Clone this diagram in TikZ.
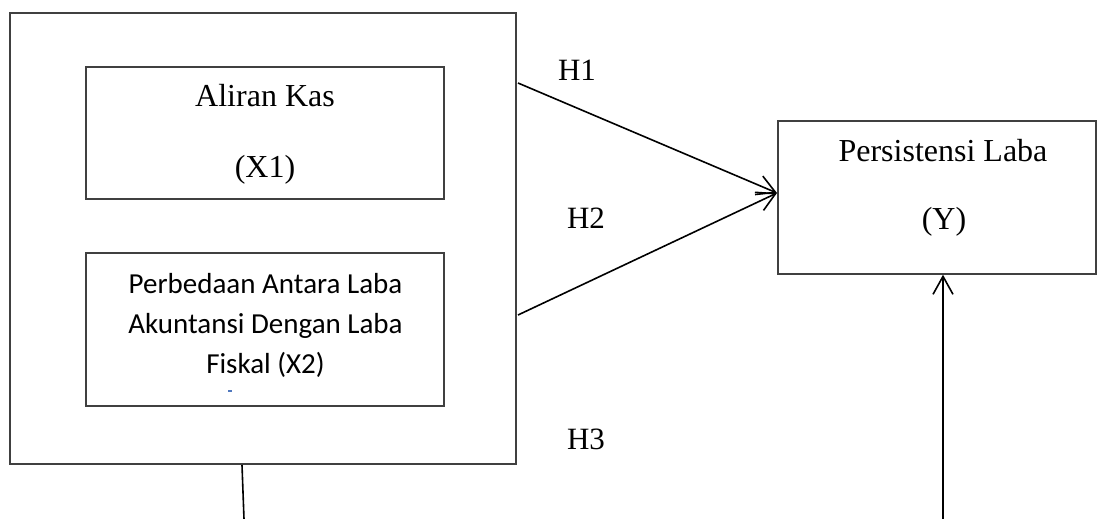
\documentclass[tikz,border=0pt]{standalone}
\usepackage{fontspec}
\setmainfont{Liberation Serif}
\newfontfamily\calibrifont{Carlito}
\usetikzlibrary{arrows.meta}

\definecolor{frame}{RGB}{64,64,64}
\definecolor{caret}{RGB}{80,120,190}

\tikzset{
  framebox/.style={draw=frame, line width=1.4pt, rectangle, inner sep=0pt},
  serif/.style={font=\fontsize{32}{38}\selectfont, anchor=base, inner sep=0pt},
  sans/.style={font=\calibrifont\fontsize{29}{40}\selectfont, anchor=base, inner sep=0pt},
  hlabel/.style={font=\fontsize{31}{36}\selectfont, anchor=base, inner sep=0pt},
  link/.style={line width=1.6pt, black},
  arrowlink/.style={link, -{Straight Barb[length=18pt,width=20pt,line width=1.6pt]}}
}

\begin{document}
\begin{tikzpicture}[x=1pt, y=-1pt]
  \useasboundingbox (0,0) rectangle (1100,519);

  % independent variables: outer frame and two inner boxes
  \node[framebox, minimum width=506pt, minimum height=451pt] (outer) at (263,238.5) {};
  \node[framebox, minimum width=358pt, minimum height=132pt] (xone) at (265,133) {};
  \node[framebox, minimum width=358pt, minimum height=153pt] (xtwo) at (265,329.5) {};

  \node[serif] (xonea) at (265,106) {Aliran Kas};
  \node[serif] (xoneb) at (265,177) {(X1)};

  \node[sans] (xtwoa) at (265.5,293) {Perbedaan Antara Laba};
  \node[sans] (xtwob) at (265.5,333) {Akuntansi Dengan Laba};
  \node[sans] (xtwoc) at (265.5,373) {Fiskal (X2)};
  \fill[caret] (228,390) rectangle (232,392);

  % dependent variable
  \node[framebox, minimum width=318pt, minimum height=153pt] (ybox) at (937,197.5) {};
  \node[serif] (ya) at (943,161) {Persistensi Laba};
  \node[serif] (yb) at (944,229) {(Y)};

  % hypothesis labels
  \node[hlabel] (hone) at (577,81) {H1};
  \node[hlabel] (htwo) at (586,228) {H2};
  \node[hlabel] (hthree) at (586,449) {H3};

  % connectors
  \coordinate (hones) at (518,83);
  \coordinate (htwos) at (518,315);
  \coordinate (yin) at (777,193);
  \draw[arrowlink] (hones) -- (yin);
  \draw[arrowlink] (htwos) -- (yin);

  \coordinate (hthreea) at (242,465);
  \coordinate (hthreeb) at (244,519);
  \draw[link] (hthreea) -- (hthreeb);

  \coordinate (ybot) at (943,519);
  \draw[arrowlink] (ybot) -- (ybot |- ybox.south);
\end{tikzpicture}
\end{document}
